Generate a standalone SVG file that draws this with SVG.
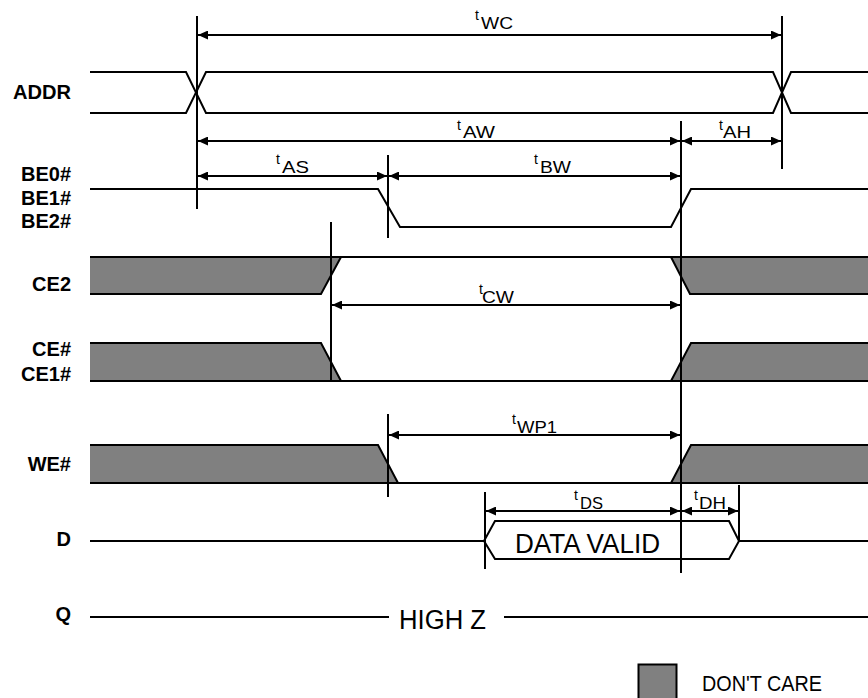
<svg xmlns="http://www.w3.org/2000/svg" width="868" height="698" viewBox="0 0 868 698">
<style>
.sig{fill:none;stroke:#000;stroke-width:2;stroke-linejoin:miter}
.dc{fill:#808080;stroke:none}
.ref{stroke:#000;stroke-width:2}
.dim{stroke:#000;stroke-width:2;marker-start:url(#ah);marker-end:url(#ah)}
.lbl{font-family:"Liberation Sans",Arial,sans-serif;font-weight:bold;font-size:20px;fill:#000;text-anchor:end}
.t{font-family:"Liberation Sans",Arial,sans-serif;font-size:14px;fill:#000}
.sub{font-family:"Liberation Sans",Arial,sans-serif;font-size:17px;fill:#000}
.big{font-family:"Liberation Sans",Arial,sans-serif;font-size:27px;fill:#000}
</style>
<defs>
<marker id="ah" viewBox="0 0 10 9" refX="10" refY="4.5" markerWidth="10" markerHeight="9" markerUnits="userSpaceOnUse" orient="auto-start-reverse">
<path d="M0,0 L10,4.5 L0,9 z" fill="#000"/>
</marker>
</defs>
<rect width="868" height="698" fill="#fff"/>

<g id="labels">
<text class="lbl" x="71" y="99" textLength="58" lengthAdjust="spacingAndGlyphs">ADDR</text>
<text class="lbl" x="71" y="181">BE0#</text>
<text class="lbl" x="71" y="205">BE1#</text>
<text class="lbl" x="71" y="228">BE2#</text>
<text class="lbl" x="71" y="291">CE2</text>
<text class="lbl" x="71" y="356">CE#</text>
<text class="lbl" x="71" y="381">CE1#</text>
<text class="lbl" x="71" y="471">WE#</text>
<text class="lbl" x="71" y="546">D</text>
<text class="lbl" x="71" y="621">Q</text>
</g>

<g id="ADDR">
<path class="sig" d="M90,72 L186,72 L206,113 L773,113 L791,72 L868,72"/>
<path class="sig" d="M90,113 L186,113 L206,72 L773,72 L791,113 L868,113"/>
</g>

<g id="BE">
<path class="sig" d="M90,189 L378,189 L400,227 L671,227 L691,189 L868,189"/>
</g>

<g id="CE2">
<path class="dc" d="M90,257 L341,257 L321,294 L90,294 z"/>
<path class="dc" d="M671,257 L868,257 L868,294 L690,294 z"/>
<path class="sig" d="M90,257 L868,257"/>
<path class="sig" d="M90,294 L321,294 L341,257"/>
<path class="sig" d="M671,257 L690,294 L868,294"/>
</g>

<g id="CE1">
<path class="dc" d="M90,343 L321,343 L341,381 L90,381 z"/>
<path class="dc" d="M671,381 L691,343 L868,343 L868,381 z"/>
<path class="sig" d="M90,381 L868,381"/>
<path class="sig" d="M90,343 L321,343 L341,381"/>
<path class="sig" d="M671,381 L691,343 L868,343"/>
</g>

<g id="WE">
<path class="dc" d="M90,445 L378,445 L398,483 L90,483 z"/>
<path class="dc" d="M671,483 L691,445 L868,445 L868,483 z"/>
<path class="sig" d="M90,483 L868,483"/>
<path class="sig" d="M90,445 L378,445 L398,483"/>
<path class="sig" d="M671,483 L691,445 L868,445"/>
</g>

<g id="D">
<path class="sig" d="M90,541 L484,541 L495,521 L729,521 L739,541 L729,559 L495,559 L484,541"/>
<path class="sig" d="M739,541 L868,541"/>
<text class="big" x="515" y="553" textLength="145" lengthAdjust="spacingAndGlyphs">DATA VALID</text>
</g>

<g id="Q">
<path class="sig" d="M90,617 L389,617"/>
<path class="sig" d="M504,617 L868,617"/>
<text class="big" x="399" y="629" textLength="87" lengthAdjust="spacingAndGlyphs">HIGH Z</text>
</g>

<g id="legend">
<rect x="638.5" y="664.5" width="38" height="40" fill="#808080" stroke="#000" stroke-width="2"/>
<text class="big" x="702" y="691" style="font-size:22px" textLength="120" lengthAdjust="spacingAndGlyphs">DON'T CARE</text>
</g>

<g id="connectors">
<line class="ref" x1="197" y1="16" x2="197" y2="209"/>
<line class="ref" x1="782" y1="16" x2="782" y2="169"/>
<line class="ref" x1="681" y1="121" x2="681" y2="573"/>
<line class="ref" x1="388" y1="155" x2="388" y2="238"/>
<line class="ref" x1="388" y1="414" x2="388" y2="497"/>
<line class="ref" x1="331" y1="222" x2="331" y2="381"/>
<line class="ref" x1="485" y1="492" x2="485" y2="569"/>
<line class="ref" x1="739" y1="485" x2="739" y2="541"/>

<line class="dim" x1="198" y1="35" x2="781" y2="35"/>
<line class="dim" x1="198" y1="141" x2="680" y2="141"/>
<line class="dim" x1="682" y1="141" x2="781" y2="141"/>
<line class="dim" x1="198" y1="176" x2="387" y2="176"/>
<line class="dim" x1="389" y1="176" x2="680" y2="176"/>
<line class="dim" x1="332" y1="305" x2="680" y2="305"/>
<line class="dim" x1="389" y1="435" x2="680" y2="435"/>
<line class="dim" x1="486" y1="511" x2="680" y2="511"/>
<line class="dim" x1="682" y1="511" x2="738" y2="511"/>
</g>

<g id="timing-labels">
<text class="t" x="475" y="20">t</text><text class="sub" x="481" y="29" textLength="32" lengthAdjust="spacingAndGlyphs">WC</text>
<text class="t" x="457" y="130">t</text><text class="sub" x="463" y="138" textLength="32" lengthAdjust="spacingAndGlyphs">AW</text>
<text class="t" x="719" y="130">t</text><text class="sub" x="723" y="138" textLength="28" lengthAdjust="spacingAndGlyphs">AH</text>
<text class="t" x="276" y="164">t</text><text class="sub" x="282" y="173" textLength="27" lengthAdjust="spacingAndGlyphs">AS</text>
<text class="t" x="534" y="164">t</text><text class="sub" x="540" y="173" textLength="31" lengthAdjust="spacingAndGlyphs">BW</text>
<text class="t" x="479" y="294">t</text><text class="sub" x="482" y="303" textLength="32" lengthAdjust="spacingAndGlyphs">CW</text>
<text class="t" x="512" y="424">t</text><text class="sub" x="517" y="433" textLength="40" lengthAdjust="spacingAndGlyphs">WP1</text>
<text class="t" x="574" y="500">t</text><text class="sub" x="580" y="509" textLength="23" lengthAdjust="spacingAndGlyphs">DS</text>
<text class="t" x="694" y="500">t</text><text class="sub" x="699" y="509" textLength="27" lengthAdjust="spacingAndGlyphs">DH</text>
</g>
</svg>
